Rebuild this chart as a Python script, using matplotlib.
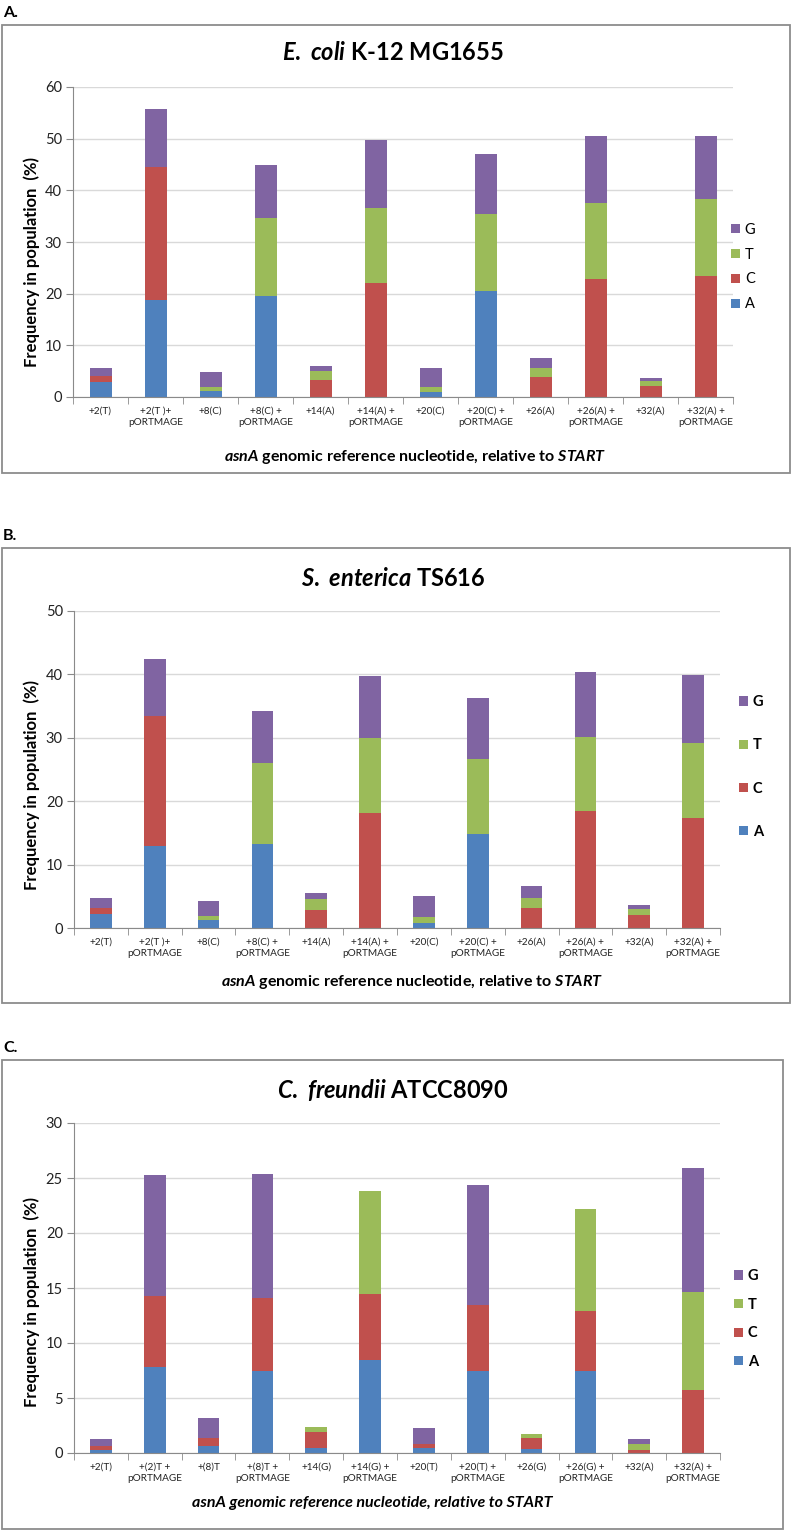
import numpy as np
import matplotlib
matplotlib.use('Agg')
import matplotlib.pyplot as plt
from matplotlib.patches import Rectangle

plt.rcParams['font.family'] = ['Lato', 'DejaVu Sans']
plt.rcParams['mathtext.fontset'] = 'custom'
plt.rcParams['mathtext.it'] = 'Lato:italic:bold'
plt.rcParams['mathtext.rm'] = 'Lato:bold'
plt.rcParams['mathtext.bf'] = 'Lato:bold'

# ---- data (percent of population) ----
ecoli_labels = ['+2(T)', '+2(T )+\npORTMAGE', '+8(C)', '+8(C) +\npORTMAGE', '+14(A)', '+14(A) +\npORTMAGE',
                '+20(C)', '+20(C) +\npORTMAGE', '+26(A)', '+26(A) +\npORTMAGE', '+32(A)', '+32(A) +\npORTMAGE']
ecoli_A = [2.9, 18.8, 1.1, 19.6, 0, 0, 1.0, 20.5, 0, 0, 0, 0]
ecoli_C = [1.1, 25.7, 0, 0, 3.35, 22.1, 0, 0, 3.9, 22.8, 2.2, 23.4]
ecoli_T = [0, 0, 0.9, 15.1, 1.6, 14.5, 0.9, 15.0, 1.7, 14.7, 0.9, 14.9]
ecoli_G = [1.6, 11.2, 2.9, 10.3, 1.1, 13.1, 3.7, 11.5, 1.9, 13.0, 0.6, 12.3]

sent_labels = ecoli_labels
sent_A = [2.2, 12.9, 1.2, 13.3, 0, 0, 0.85, 14.8, 0, 0, 0, 0]
sent_C = [0.9, 20.5, 0, 0, 2.8, 18.1, 0, 0, 3.1, 18.5, 2.1, 17.4]
sent_T = [0, 0, 0.7, 12.8, 1.8, 11.8, 0.9, 11.8, 1.7, 11.6, 0.9, 11.8]
sent_G = [1.7, 9.1, 2.3, 8.1, 0.9, 9.9, 3.25, 9.6, 1.9, 10.3, 0.7, 10.7]

cfre_labels = ['+2(T)', '+(2)T +\npORTMAGE', '+(8)T', '+(8)T +\npORTMAGE', '+14(G)', '+14(G) +\npORTMAGE',
               '+20(T)', '+20(T) +\npORTMAGE', '+26(G)', '+26(G) +\npORTMAGE', '+32(A)', '+32(A) +\npORTMAGE']
cfre_A = [0.3, 7.8, 0.6, 7.5, 0.45, 8.45, 0.45, 7.5, 0.33, 7.5, 0, 0]
cfre_C = [0.35, 6.5, 0.75, 6.6, 1.5, 6.0, 0.4, 6.0, 1.0, 5.4, 0.3, 5.7]
cfre_T = [0, 0, 0, 0, 0.45, 9.4, 0, 0, 0.42, 9.3, 0.55, 8.9]
cfre_G = [0.6, 11.0, 1.85, 11.3, 0, 0, 1.4, 10.9, 0, 0, 0.45, 11.3]

bases = ['A', 'C', 'T', 'G']
colors = {'A': '#4F81BD', 'C': '#C0504D', 'T': '#9BBB59', 'G': '#8064A2'}

W, H = 793, 1531
fig = plt.figure(figsize=(W / 100, H / 100), dpi=100)


def fx(x):
    return x / W


def fy(y):
    return 1 - y / H


def draw_panel(letter, frame, plot, labels, series, ymax, ystep, title, title_y,
               xlabel, xlabel_pos, xlabel_italic, ylabel_y, leg_x, leg_y, leg_space, leg_bold):
    # frame box and panel letter
    x0, y0, x1, y1 = frame
    fig.patches.append(Rectangle((fx(x0), fy(y1)), (x1 - x0) / W, (y1 - y0) / H,
                                 transform=fig.transFigure, fill=False,
                                 edgecolor='#8c8c8c', lw=1.3))
    fig.text(fx(3), fy(y0 - 12), letter, fontsize=11.5, fontweight='bold', va='center', ha='left')

    l, r, t, b = plot
    ax = fig.add_axes([fx(l), fy(b), (r - l) / W, (b - t) / H])
    x = np.arange(len(labels))
    bottom = np.zeros(len(labels))
    handles = {}
    for base, vals in zip(bases, series):
        vals = np.array(vals, dtype=float)
        handles[base] = ax.bar(x, vals, 0.4, bottom=bottom, color=colors[base], label=base)
        bottom += vals

    ax.set_xlim(-0.5, len(labels) - 0.5)
    ax.set_ylim(0, ymax)
    ax.set_yticks(np.arange(0, ymax + 0.1, ystep))
    ax.yaxis.grid(True, color='#d9d9d9', lw=1)
    ax.set_axisbelow(True)
    for s in ['top', 'right']:
        ax.spines[s].set_visible(False)
    for s in ['left', 'bottom']:
        ax.spines[s].set_color('#8a8a8a')
    ax.tick_params(axis='y', length=5, color='#8a8a8a', labelsize=10.5, labelcolor='#222222', pad=3)
    ax.set_xticks(x)
    ax.set_xticklabels(labels, fontsize=7.2, linespacing=1.35, color='#222222')
    ax.set_xticks(np.arange(-0.5, len(labels), 1), minor=True)
    ax.tick_params(axis='x', which='major', length=0, pad=7)
    ax.tick_params(axis='x', which='minor', length=5, color='#8a8a8a')

    fig.text(fx(32), fy(ylabel_y), 'Frequency in population  (%)', rotation=90,
             fontsize=12, fontweight='bold', ha='center', va='center')
    fig.text(fx(393), fy(title_y), title, fontsize=17, fontweight='bold', ha='center', va='center')
    fig.text(fx(xlabel_pos[0]), fy(xlabel_pos[1]), xlabel, fontsize=11.5, fontweight='bold',
             fontstyle='italic' if xlabel_italic else 'normal', ha='center', va='center')

    ax.legend([handles[k] for k in ['G', 'T', 'C', 'A']], ['G', 'T', 'C', 'A'],
              loc='center left', bbox_to_anchor=(fx(leg_x), fy(leg_y)),
              bbox_transform=fig.transFigure, frameon=False, borderaxespad=0, borderpad=0,
              handlelength=0.6, handleheight=0.6, handletextpad=0.35,
              labelspacing=leg_space, prop={'size': 10.5, 'weight': 'bold' if leg_bold else 'normal'})
    return ax


draw_panel('A.', (2, 25, 790, 473), (73, 733, 87, 397), ecoli_labels,
           [ecoli_A, ecoli_C, ecoli_T, ecoli_G], 60, 10,
           r'$\mathit{E.\,\,coli}$ K-12 MG1655', 53,
           r'$\mathit{asnA}$ genomic reference nucleotide, relative to $\mathit{START}$', (415, 457), False,
           262, 731, 267, 0.75, False)

draw_panel('B.', (2, 548, 790, 1003), (74, 720, 611, 928), sent_labels,
           [sent_A, sent_C, sent_T, sent_G], 50, 10,
           r'$\mathit{S.\,\,enterica}$ TS616', 578,
           r'$\mathit{asnA}$ genomic reference nucleotide, relative to $\mathit{START}$', (412, 982), False,
           785, 739, 767, 2.0, True)

draw_panel('C.', (2, 1060, 783, 1529), (74, 720, 1123, 1453), cfre_labels,
           [cfre_A, cfre_C, cfre_T, cfre_G], 30, 5,
           r'$\mathit{C.\,\,freundii}$ ATCC8090', 1090,
           'asnA genomic reference nucleotide, relative to START', (372, 1503), True,
           1302, 734, 1319, 1.0, True)

fig.savefig('out.png', dpi=100)
